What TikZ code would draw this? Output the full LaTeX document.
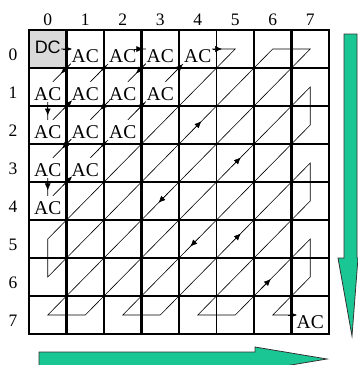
\documentclass[tikz,border=0pt]{standalone}
\usepackage{fontspec}
\setmainfont{Liberation Serif}
\newfontfamily\dcfont{Liberation Sans}
\usetikzlibrary{calc,arrows.meta}
\definecolor{scangreen}{RGB}{26,198,148}
\definecolor{dcgray}{RGB}{217,217,217}

\begin{document}
\begin{tikzpicture}[x=37.5pt,y=38pt]
    % ===== PARAMETERS =====
    \pgfmathsetmacro{\N}{8}        % cells per side
    \pgfmathsetmacro{\Thick}{2.6}  % thick grid line in pt
    \pgfmathsetmacro{\Thin}{1.3}   % thin grid line in pt

    % Page frame (margins included)
    \useasboundingbox (-29pt,30pt) rectangle (329pt,-335pt);

    % ===== STYLES =====
    \tikzset{
        gridthick/.style={line width=\Thick pt, line cap=rect},
        gridthin/.style={line width=\Thin pt, line cap=rect},
        zigline/.style={line width=0.6pt},
        zigtip/.style={line width=0.6pt, -{Latex[length=7pt,width=6pt]}},
        actext/.style={
            fill=white, inner sep=1pt,
            text height=18pt, text depth=0pt, yshift=-4.5pt,
            font=\fontsize{19.5}{20}\selectfont
        },
        idx/.style={font=\fontsize{17.5}{18}\selectfont},
        bigarrow/.style={fill=scangreen, draw=black!80, line width=0.8pt}
    }

    % ===== CELL CENTRES =====
    \foreach \row in {0,...,7}
        \foreach \col in {0,...,7}
            \coordinate (c\row\col) at (\col+0.5,-\row-0.5);

    % DC cell
    \fill[dcgray] (0,0) rectangle (1,-1);

    % ===== ZIGZAG SCAN =====
    \draw[zigline] (c00) -- (c01) -- (c10) -- (c20) -- (c02) -- (c03)
        -- (c30) -- (c40) -- (c04) -- (c05) -- (c50) -- (c60) -- (c06)
        -- (c07) -- (c70) -- (c71) -- (c17) -- (c27) -- (c72) -- (c73)
        -- (c37) -- (c47) -- (c74) -- (c75) -- (c57) -- (c67) -- (c76)
        -- (c77);

    % ===== TEXT IN CELLS =====
    \node[font=\dcfont\fontsize{18}{18}\selectfont, fill=dcgray,
          inner sep=0.5pt, yshift=2pt] (dc) at (c00) {DC};
    \foreach \cell in {01,02,03,04,10,11,12,13,20,21,22,30,31,40,77}
        \node[actext] (ac\cell) at (c\cell) {AC};

    % ===== GRID =====
    \foreach \i in {0,1,3,6,7}
        \draw[gridthick] (\i,0) -- (\i,-\N);
    \foreach \i in {2,4,5,8}
        \draw[gridthin] (\i,0) -- (\i,-\N);
    \foreach \j in {0,1,3,4,5,6,7,8}
        \draw[gridthick] (0,-\j) -- (\N,-\j);
    \draw[gridthin] (0,-2) -- (\N,-2);

    % ===== ARROW TIPS ON THE SCAN =====
    \foreach \a/\b/\p in {c00/c01/0.65, c01/c10/0.65, c10/c20/0.75,
            c20/c11/0.65, c11/c02/0.58, c02/c03/0.55, c03/c12/0.65,
            c12/c21/0.6, c21/c30/0.62, c30/c40/0.72, c40/c31/0.65,
            c31/c22/0.58, c22/c13/0.6, c13/c04/0.6, c04/c05/0.65,
            c33/c24/1.1, c34/c43/1.05, c44/c35/1.15, c45/c54/1.2,
            c64/c55/1.15, c75/c66/0.95, c76/c77/0.65} {
        \pgfmathsetmacro{\q}{\p-0.25}
        \draw[zigtip] ($(\a)!\q!(\b)$) -- ($(\a)!\p!(\b)$);
    }

    % ===== INDICES =====
    \foreach \i in {0,...,7} {
        \node[idx, yshift=10pt] (col\i) at (\i+0.5,0) {\i};
        \node[idx, xshift=-16pt, yshift=-6pt] (row\i) at (0,-\i-0.5) {\i};
    }

    % ===== DIRECTION ARROWS =====
    % down the right side
    \draw[bigarrow] (315pt,-4pt) -- (328pt,-4pt) -- (328pt,-228pt)
        -- (329pt,-228pt) -- (323pt,-306pt) -- (309pt,-228pt)
        -- (315pt,-228pt) -- cycle;
    % along the bottom
    \draw[bigarrow] (10pt,-322pt) -- (226pt,-322pt) -- (226pt,-317pt)
        -- (298pt,-329pt) -- (226pt,-341pt) -- (226pt,-336pt)
        -- (10pt,-336pt) -- cycle;
\end{tikzpicture}
\end{document}
